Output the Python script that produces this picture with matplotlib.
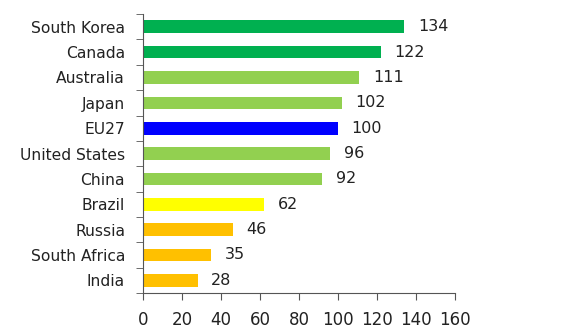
import matplotlib
matplotlib.use("Agg")
import matplotlib.pyplot as plt
import numpy as np

countries = ["South Korea", "Canada", "Australia", "Japan", "EU27", "United States",
             "China", "Brazil", "Russia", "South Africa", "India"]
values = [134, 122, 111, 102, 100, 96, 92, 62, 46, 35, 28]
colors = ["#00B050", "#00B050", "#92D050", "#92D050", "#0000FF", "#92D050",
          "#92D050", "#FFFF00", "#FFC000", "#FFC000", "#FFC000"]
xticks = [0, 20, 40, 60, 80, 100, 120, 140, 160]

fig = plt.figure(figsize=(5.7, 3.32), dpi=100)
ax = fig.add_axes([0.251, 0.1175, 0.547, 0.84])

n = len(countries)
y = np.arange(n)[::-1]
ax.barh(y, values, height=0.5, color=colors)
for yi, v in zip(y, values):
    ax.text(v + 7, yi, str(v), va="center", ha="left", fontsize=11.5, color="#222222")

ax.set_ylim(-0.5, n - 0.5)
ax.set_xlim(0, 160)
ax.set_xticks(xticks)
ax.set_yticks(y)
ax.set_yticklabels(countries, fontsize=11.2, color="#222222")
ax.set_yticks(np.arange(n + 1) - 0.5, minor=True)
ax.tick_params(axis="y", which="major", length=0, pad=13)
ax.tick_params(axis="y", which="minor", length=5, color="#555555", direction="out")
ax.tick_params(axis="x", length=5, color="#555555", labelsize=12, labelcolor="#222222", pad=8)
for s in ["top", "right"]:
    ax.spines[s].set_visible(False)
for s in ["left", "bottom"]:
    ax.spines[s].set_color("#555555")

fig.savefig("out.png", dpi=100)
